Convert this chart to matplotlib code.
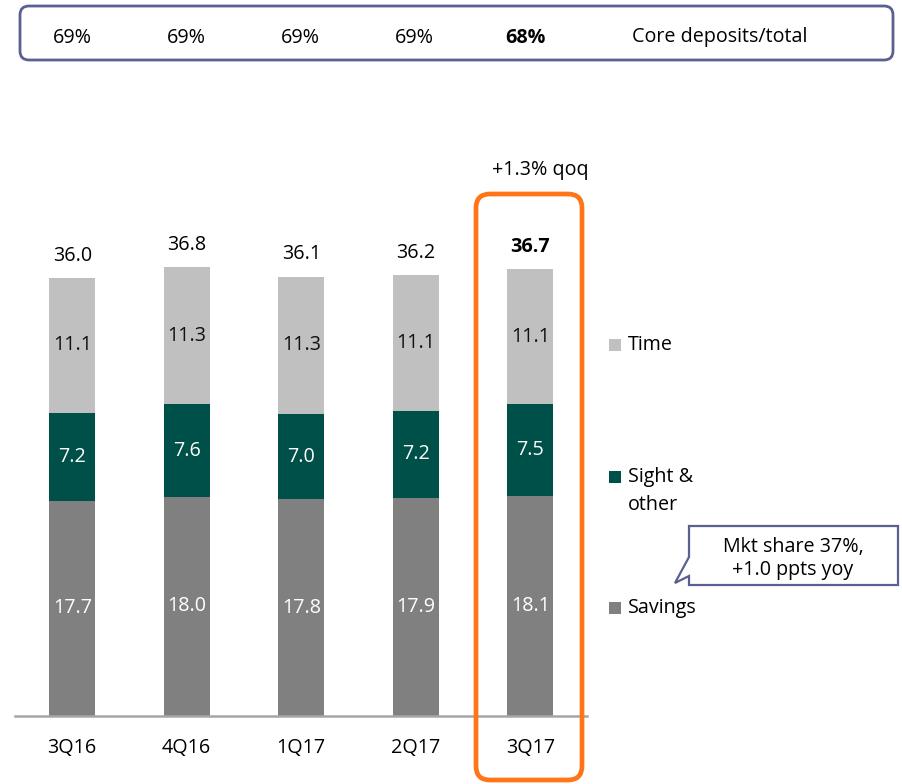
import matplotlib
matplotlib.use("Agg")
import matplotlib.pyplot as plt
from matplotlib.patches import FancyBboxPatch, Polygon, Rectangle

quarters = ['3Q16', '4Q16', '1Q17', '2Q17', '3Q17']
savings = [17.7, 18.0, 17.8, 17.9, 18.1]
sight = [7.2, 7.6, 7.0, 7.2, 7.5]
time_dep = [11.1, 11.3, 11.3, 11.1, 11.1]
totals = [36.0, 36.8, 36.1, 36.2, 36.7]
core_share = ['69%', '69%', '69%', '69%', '68%']
qoq_label = '+1.3% qoq'
callout_lines = ['Mkt share 37%,', '+1.0 ppts yoy']

C_SAV = '#808080'
C_SIGHT = '#00504A'
C_TIME = '#C0C0C0'
FONT = 'Open Sans'
FS = 14.2

plt.rcParams['font.family'] = [FONT, 'DejaVu Sans']

W, H = 903, 784
fig = plt.figure(figsize=(W / 100, H / 100), dpi=100)

# main axes in pixel placement
left, right, base, top = 15, 587.5, 716, 106
ax = fig.add_axes([left / W, (H - base) / H, (right - left) / W, (base - top) / H])
ax.set_xlim(-0.5, 4.5)
ax.set_ylim(0, 610 / 12.17)
ax.axis('off')

x = list(range(len(quarters)))
bw = 0.40
ax.bar(x, savings, bw, color=C_SAV, zorder=2)
ax.bar(x, sight, bw, bottom=savings, color=C_SIGHT, zorder=2)
bot3 = [s + g for s, g in zip(savings, sight)]
ax.bar(x, time_dep, bw, bottom=bot3, color=C_TIME, zorder=2)
ax.plot([-0.5, 4.5], [0, 0], color='#A6A6A6', lw=1.8, zorder=3, clip_on=False)

for i in x:
    ax.text(i, savings[i] / 2, f'{savings[i]:.1f}', ha='center', va='center',
            color='white', fontsize=FS, zorder=4)
    ax.text(i, savings[i] + sight[i] / 2, f'{sight[i]:.1f}', ha='center', va='center',
            color='white', fontsize=FS, zorder=4)
    ax.text(i, bot3[i] + time_dep[i] / 2, f'{time_dep[i]:.1f}', ha='center', va='center',
            color='#111111', fontsize=FS, zorder=4)
    tot_top = bot3[i] + time_dep[i]
    ax.annotate(f'{totals[i]:.1f}', xy=(i, tot_top), xytext=(0, 16),
                textcoords='offset points', ha='center', va='center', fontsize=FS,
                fontweight='bold' if i == len(x) - 1 else 'normal', color='black')
    ax.annotate(quarters[i], xy=(i, 0), xytext=(0, -23), textcoords='offset points',
                ha='center', va='center', fontsize=FS, color='black')

# overlay axes in pixel coordinates
ov = fig.add_axes([0, 0, 1, 1], zorder=5)
ov.set_xlim(0, W)
ov.set_ylim(H, 0)
ov.axis('off')
ov.patch.set_alpha(0)

# top box
ov.add_patch(FancyBboxPatch((20, 6), 873, 54, boxstyle='round,pad=0,rounding_size=9',
                            fc='white', ec='#5A6090', lw=2))
core_x = [72, 186, 300, 414, 525]
for i, s in enumerate(core_share):
    ov.text(core_x[i], 38, s, ha='center', va='center', fontsize=FS,
            fontweight='bold' if i == len(core_share) - 1 else 'normal')
ov.text(632, 37, 'Core deposits/total', ha='left', va='center', fontsize=FS)

# orange highlight box
ov.add_patch(FancyBboxPatch((476, 194), 106, 586, boxstyle='round,pad=0,rounding_size=14',
                            fc='none', ec='#FF7518', lw=3.4))
ov.text(540, 170, qoq_label, ha='center', va='center', fontsize=FS)

# legend
leg = [(['Time'], C_TIME, 345), (['Sight &', 'other'], C_SIGHT, 477), (['Savings'], C_SAV, 608)]
for labs, col, yy in leg:
    ov.add_patch(Rectangle((609, yy - 6), 12, 12, fc=col, ec='none'))
    for k, lab in enumerate(labs):
        ov.text(628, yy + 28 * k, lab, ha='left', va='center', fontsize=FS)

# callout
pts = [(689, 526), (898, 526), (898, 585), (689, 585), (689, 576), (675, 583), (689, 557)]
ov.add_patch(Polygon(pts, closed=True, fc='white', ec='#5A6090', lw=1.6))
for k, lab in enumerate(callout_lines):
    ov.text(793, 547 + 23 * k, lab, ha='center', va='center', fontsize=FS)

fig.savefig('out.png', dpi=100)
